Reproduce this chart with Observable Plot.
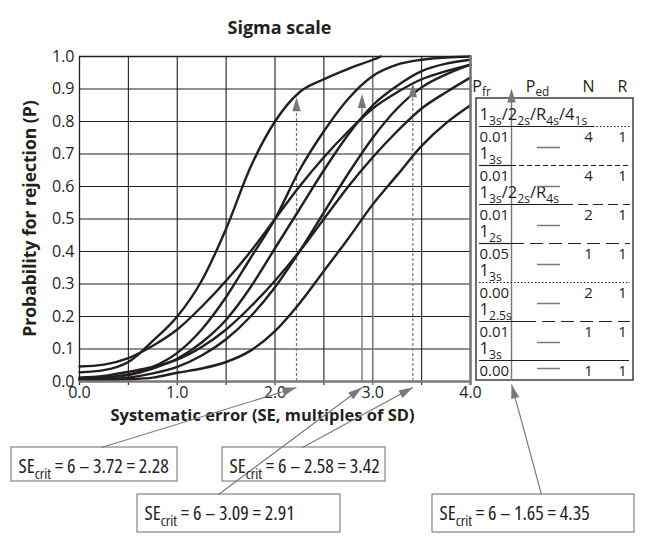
<!DOCTYPE html>
<html><head><meta charset="utf-8">
<script src="https://cdn.jsdelivr.net/npm/d3@7"></script>
<script src="https://cdn.jsdelivr.net/npm/@observablehq/plot@0.6"></script>
<style>
body{margin:0;background:#fff;}
#chart svg text{font-family:"Open Sans",sans-serif;}
</style></head><body><div id="chart"></div>
<script>
// ---------- data ----------
const seGrid = [0,0.25,0.5,0.75,1,1.25,1.5,1.75,2,2.25,2.5,2.75,3,3.25,3.5,3.75,4];
const seA    = [0,0.25,0.5,0.75,1,1.25,1.5,1.75,2,2.25,2.5,2.75,3,3.08];
const pA = [0.028,0.035,0.06,0.125,0.20,0.31,0.47,0.66,0.80,0.89,0.93,0.962,0.99,1.0];      // 1-3s/2-2s/R-4s/4-1s N=4
const pB = [0.046,0.052,0.072,0.11,0.16,0.23,0.31,0.40,0.50,0.60,0.69,0.77,0.84,0.89,0.93,0.955,0.975]; // 1-2s N=1
const pC = [0.011,0.013,0.022,0.045,0.088,0.16,0.26,0.38,0.50,0.65,0.77,0.87,0.94,0.975,0.99,0.997,1.0]; // 1-3s N=4
const pD = [0.010,0.012,0.02,0.04,0.07,0.12,0.19,0.29,0.41,0.53,0.65,0.76,0.85,0.91,0.955,0.978,0.99]; // multirule N=2
const pE = [0.005,0.007,0.012,0.025,0.045,0.08,0.13,0.20,0.29,0.40,0.52,0.64,0.75,0.84,0.905,0.945,0.975]; // 1-3s N=2
const pF = [0.012,0.017,0.03,0.045,0.067,0.106,0.16,0.23,0.31,0.40,0.50,0.60,0.69,0.77,0.84,0.89,0.935]; // 1-2.5s N=1
const pG = [0.003,0.004,0.007,0.012,0.027,0.04,0.06,0.095,0.155,0.24,0.34,0.44,0.545,0.635,0.725,0.795,0.85]; // 1-3s N=1

const xTickLabels = [0,1,2,3,4];
const yTickLabels = [0,0.1,0.2,0.3,0.4,0.5,0.6,0.7,0.8,0.9,1.0];
const xGrid = [0.5,1,1.5,2,2.5,3.5];
const yGrid = [0.1,0.2,0.3,0.4,0.5,0.6,0.7,0.8,0.9];

const header = ["P_{fr}","P_{ed}","N","R"];
const rules  = ["1_{3s}/2_{2s}/R_{4s}/4_{1s}","1_{3s}","1_{3s}/2_{2s}/R_{4s}","1_{2s}","1_{3s}","1_{2.5s}","1_{3s}"];
const pfr    = ["0.01","0.01","0.01","0.05","0.00","0.01","0.00"];
const nVals  = [4,4,2,1,2,1,1];
const rVals  = [1,1,1,1,1,1,1];

const critZ   = ["3.72","2.58","3.09","1.65"];
const critSE  = ["2.28","3.42","2.91","4.35"];
const arrowX  = [2.22,3.41,2.89,4.42];   // where the arrows sit on the SE axis (as drawn)
const arrowTip= [0.875,0.918,0.885,null];

// ---------- layout helpers (pixel layout -> scale units) ----------
const X0 = 79, X1 = 470, Y0 = 381, Y1 = 56;
const ix = px => (px - X0) / (X1 - X0) * 4;
const iy = py => (Y0 - py) / (Y0 - Y1);
const INK = "#231f20", GRAY = "#77787b";

const curves = [
  {id:"A", x:seA, p:pA},{id:"B", x:seGrid, p:pB},{id:"C", x:seGrid, p:pC},
  {id:"D", x:seGrid, p:pD},{id:"E", x:seGrid, p:pE},{id:"F", x:seGrid, p:pF},{id:"G", x:seGrid, p:pG}
];
const lineData = curves.flatMap(c => c.x.map((x,i) => ({id:c.id, se:x, p:c.p[i]})));

// arrow-head symbol (tip at origin, pointing up)
const headSym = {draw(ctx){ ctx.moveTo(0,0); ctx.lineTo(4.2,14); ctx.lineTo(-4.2,14); ctx.closePath(); }};

// table layout
const tL = 476, tR = 633, tT = 98, tB = 380;
const lineY = i => 126 + i*39;
const solidLen = [114, 32, 84, 32, 0, 44, 150];
const dashes = ["1.5,2","5,3","10,5","13,6","1.5,2","13,6",null];
const rows = rules.map((r,i) => ({rule:r, pfr:pfr[i], n:nVals[i], r:rVals[i], i}));

// boxes layout
const boxes = [
  {l:11,  t:447, w:166, h:34, sx:101, i:0},
  {l:222, t:447, w:163, h:34, sx:302, i:1},
  {l:137, t:494, w:203, h:38, sx:218, i:2},
  {l:432, t:494, w:202, h:38, sx:541, i:3}
].map(b => ({...b, text:`SE_{crit} = 6 – ${critZ[b.i]} = ${critSE[b.i]}`, ax:arrowX[b.i], ay: b.i===3 ? iy(384) : iy(387)}));
const xs = Plot.scale({x:{domain:[0,4], range:[X0,X1]}});
boxes.forEach(b => {
  const tx = xs.apply(b.ax), ty = b.i===3 ? 384 : 387;
  b.angle = Math.atan2(tx - b.sx, b.t - ty) * 180 / Math.PI;
});
const vHeads = arrowTip.map((t,i) => ({x:arrowX[i], y:t})).filter(d => d.y != null);
vHeads.push({x:ix(511), y:iy(88)});

const marks = [
  // grid
  Plot.ruleY(yGrid, {x1:0, x2:4, stroke:INK, strokeWidth:1.1}),
  Plot.ruleX(xGrid, {y1:iy(385), y2:1, stroke:INK, strokeWidth:1.1}),
  Plot.ruleX([3], {y1:iy(385), y2:1, stroke:GRAY, strokeWidth:1.6}),
  Plot.ruleX([0], {y1:iy(385), y2:1, stroke:INK, strokeWidth:1.3}),
  Plot.ruleY([1], {x1:0, x2:4, stroke:INK, strokeWidth:1.3}),
  // arrow stems
  Plot.ruleX([arrowX[0], arrowX[1]], {y1:0, y2:d => arrowTip[arrowX.indexOf(d)] - 0.03, stroke:GRAY, strokeWidth:1.2, strokeDasharray:"3,2"}),
  Plot.ruleX([arrowX[2]], {y1:0, y2:arrowTip[2] - 0.03, stroke:GRAY, strokeWidth:1.4}),
  // curves
  Plot.line(lineData, {x:"se", y:"p", z:"id", curve:"monotone-x", stroke:INK, strokeWidth:2.4}),
  // frame bottom/right
  Plot.ruleY([0], {x1:0, x2:4, stroke:GRAY, strokeWidth:2.6}),
  Plot.ruleX([4], {y1:iy(385), y2:1, stroke:GRAY, strokeWidth:2.6}),
  // axes
  Plot.axisX(xTickLabels, {tickFormat:".1f", tickSize:0, tickPadding:5, fontSize:16, label:null, fill:INK}),
  Plot.axisY(yTickLabels, {tickFormat:".1f", tickSize:0, tickPadding:5, fontSize:16, label:null, fill:INK}),
  // titles
  Plot.text(["Sigma scale"], {x:ix(279), y:iy(33), fontSize:18, fontWeight:"bold", lineAnchor:"bottom", fill:INK}),
  Plot.text(["Probability for rejection (P)"], {x:ix(30), y:iy(218), rotate:-90, fontSize:17.5, fontWeight:"bold", lineAnchor:"middle", fill:INK}),
  Plot.text(["Systematic error (SE, multiples of SD)"], {x:ix(262), y:iy(420), fontSize:16.5, fontWeight:"bold", lineAnchor:"bottom", fill:INK}),
  // table
  Plot.rect([0], {x1:ix(tL), x2:ix(tR), y1:iy(tB), y2:iy(tT), fill:"none", stroke:INK, strokeWidth:1.3}),
  Plot.ruleX([ix(511)], {y1:iy(tB), y2:iy(100), stroke:GRAY, strokeWidth:1.4}),
  Plot.text(header, {x:(d,i) => ix([481,537,588,622][i]), y:iy(91), textAnchor:(d,i)=>i<2?"start":"middle", fontSize:16, lineAnchor:"bottom", fill:INK}),
  Plot.text(rows, {x:ix(479), y:d => iy(lineY(d.i) - 7), text:"rule", textAnchor:"start", fontSize:16.5, lineAnchor:"bottom", fill:INK}),
  Plot.ruleY(rows.filter(d => solidLen[d.i] > 0), {y:d => iy(lineY(d.i)), x1:ix(479), x2:d => ix(479 + solidLen[d.i]), stroke:INK, strokeWidth:1.2}),
  ...rows.filter(d => dashes[d.i]).map(d => Plot.ruleY([d], {y:iy(lineY(d.i)), x1:ix(479 + solidLen[d.i]), x2:ix(630), stroke:INK, strokeWidth:1.2, strokeDasharray:dashes[d.i]})),
  Plot.text(rows, {x:ix(479), y:d => iy(lineY(d.i) + 15), text:"pfr", textAnchor:"start", fontSize:15, lineAnchor:"bottom", fill:INK}),
  Plot.text(rows, {x:ix(588), y:d => iy(lineY(d.i) + 15), text:"n", fontSize:15, lineAnchor:"bottom", fill:INK}),
  Plot.text(rows, {x:ix(622), y:d => iy(lineY(d.i) + 15), text:"r", fontSize:15, lineAnchor:"bottom", fill:INK}),
  Plot.ruleY(rows, {y:d => iy(lineY(d.i) + (d.i === rows.length-1 ? 8 : 21)), x1:ix(537), x2:ix(560), stroke:GRAY, strokeWidth:1.5}),
  // annotation boxes
  Plot.link(boxes, {x1:b => ix(b.sx), y1:b => iy(b.t), x2:"ax", y2:"ay", stroke:GRAY, strokeWidth:1.1}),
  Plot.rect(boxes, {x1:b => ix(b.l), x2:b => ix(b.l + b.w), y1:b => iy(b.t + b.h), y2:b => iy(b.t), fill:"none", stroke:GRAY, strokeWidth:1.1}),
  Plot.text(boxes, {x:b => ix(b.l + 7), y:b => iy(b.t + 25), text:"text", textAnchor:"start", fontSize:20, lineAnchor:"bottom", fill:INK}),
  // arrow heads
  Plot.dot(vHeads, {x:"x", y:"y", symbol:headSym, r:4, fill:GRAY, stroke:"none"}),
  Plot.dot(boxes, {x:"ax", y:"ay", symbol:headSym, r:4, fill:GRAY, stroke:"none", rotate:"angle"})
];

const chart = Plot.plot({
  width:646, height:538,
  marginLeft:X0, marginRight:646-X1, marginTop:Y1, marginBottom:538-Y0,
  x:{domain:[0,4]}, y:{domain:[0,1]},
  style:{fontFamily:"'Open Sans', sans-serif", background:"#fff", overflow:"visible"},
  marks
});
document.getElementById("chart").appendChild(chart);

// subscripts: turn "a_{b}" into tspans
chart.querySelectorAll("text").forEach(el => {
  const s = el.textContent;
  if (!s.includes("_{")) return;
  if (s.startsWith("SE_{")) el.style.fontStretch = "semi-condensed";
  const fs = parseFloat(getComputedStyle(el).fontSize);
  const parts = s.split(/(_\{[^}]*\})/).filter(p => p.length);
  while (el.firstChild) el.removeChild(el.firstChild);
  let shifted = false;
  parts.forEach(p => {
    const t = document.createElementNS("http://www.w3.org/2000/svg","tspan");
    if (p.startsWith("_{")) {
      t.textContent = p.slice(2,-1);
      t.setAttribute("font-size", (fs*0.74).toFixed(1));
      t.setAttribute("dy", (fs*0.3).toFixed(1));
      shifted = true;
    } else {
      t.textContent = p;
      if (shifted) { t.setAttribute("dy", (-fs*0.3).toFixed(1)); shifted = false; }
    }
    el.appendChild(t);
  });
});
</script></body></html>
